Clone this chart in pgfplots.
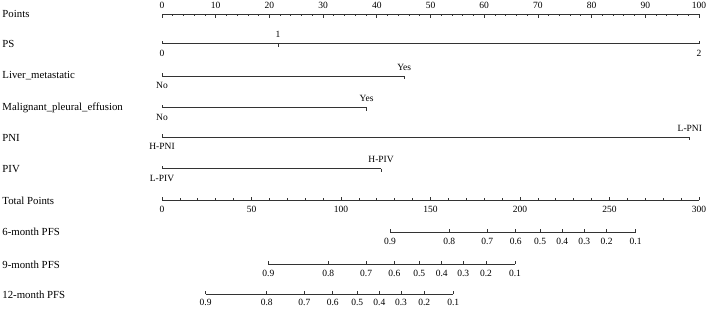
\documentclass[border=0pt]{standalone}
\usepackage{pgfplots}
\pgfplotsset{compat=1.18}
\usepackage{fontspec}
\setmainfont{Liberation Serif}

\pgfdeclareplotmark{tup}{\pgfpathmoveto{\pgfpointorigin}\pgfpathlineto{\pgfpoint{0pt}{\pgfplotmarksize}}\pgfusepathqstroke}
\pgfdeclareplotmark{tdown}{\pgfpathmoveto{\pgfpointorigin}\pgfpathlineto{\pgfpoint{0pt}{-\pgfplotmarksize}}\pgfusepathqstroke}

\pgfplotsset{
  base/.style={scale only axis, width=708pt, height=309pt, ymin=0, ymax=309,
    y dir=reverse, hide axis, clip=false, at={(0,0)}, anchor=south west},
  rl/.style={color=black!80, line width=1pt, mark=none},
  tu/.style={only marks, mark=tup, mark size=#1, mark options={line width=0.8pt, draw=black!80}},
  td/.style={only marks, mark=tdown, mark size=#1, mark options={line width=0.8pt, draw=black!80}},
  labA/.style={draw=none, mark=none, nodes near coords, point meta=explicit symbolic,
    nodes near coords style={anchor=center, yshift=9pt, inner sep=0pt, font=\fontsize{9.5}{10}\selectfont, text=black}},
  labB/.style={draw=none, mark=none, nodes near coords, point meta=explicit symbolic,
    nodes near coords style={anchor=center, yshift=-9.6pt, inner sep=0pt, font=\fontsize{9.5}{10}\selectfont, text=black}},
}
\newcommand{\rowfont}{\fontsize{10.8}{12}\selectfont}

\begin{document}
\begin{tikzpicture}
\useasboundingbox (0,0) rectangle (708pt,309pt);
% ---------- upper block: Points scale (0-100) ----------
\begin{axis}[base, xmin=-30.168, xmax=101.676]
  % Points
  \addplot[rl] coordinates {(0,14) (100,14)};
  \addplot[td=3.5pt] coordinates {(0,14) (10,14) (20,14) (30,14) (40,14) (50,14) (60,14) (70,14) (80,14) (90,14) (100,14)};
  \addplot[td=2pt] coordinates {(2,14) (4,14) (6,14) (8,14) (12,14) (14,14) (16,14) (18,14) (22,14) (24,14) (26,14) (28,14) (32,14) (34,14) (36,14) (38,14) (42,14) (44,14) (46,14) (48,14) (52,14) (54,14) (56,14) (58,14) (62,14) (64,14) (66,14) (68,14) (72,14) (74,14) (76,14) (78,14) (82,14) (84,14) (86,14) (88,14) (92,14) (94,14) (96,14) (98,14)};
  \addplot[labA] coordinates {(0,14) [0] (10,14) [10] (20,14) [20] (30,14) [30] (40,14) [40] (50,14) [50] (60,14) [60] (70,14) [70] (80,14) [80] (90,14) [90] (100,14) [100]};
  % PS
  \addplot[rl] coordinates {(0,43.5) (100,43.5)};
  \addplot[tu=3pt] coordinates {(0,43.5) (100,43.5)};
  \addplot[td=3pt] coordinates {(21.6,43.5)};
  \addplot[labB] coordinates {(0,43.5) [0] (100,43.5) [2]};
  \addplot[labA] coordinates {(21.6,43.5) [1]};
  % Liver_metastatic
  \addplot[rl] coordinates {(0,76) (45.1,76)};
  \addplot[tu=3pt] coordinates {(0,76)};
  \addplot[td=3pt] coordinates {(45.1,76)};
  \addplot[labB] coordinates {(0,76) [No]};
  \addplot[labA] coordinates {(45.1,76) [Yes]};
  % Malignant_pleural_effusion
  \addplot[rl] coordinates {(0,107.5) (38.1,107.5)};
  \addplot[tu=3pt] coordinates {(0,107.5)};
  \addplot[td=3pt] coordinates {(38.1,107.5)};
  \addplot[labB] coordinates {(0,107.5) [No]};
  \addplot[labA] coordinates {(38.1,107.5) [Yes]};
  % PNI
  \addplot[rl] coordinates {(0,137) (98.3,137)};
  \addplot[tu=3pt] coordinates {(0,137)};
  \addplot[td=3pt] coordinates {(98.3,137)};
  \addplot[labB] coordinates {(0,137) [H-PNI]};
  \addplot[labA] coordinates {(98.3,137) [L-PNI]};
  % PIV
  \addplot[rl] coordinates {(0,168.5) (40.8,168.5)};
  \addplot[tu=3pt] coordinates {(0,168.5)};
  \addplot[td=3pt] coordinates {(40.8,168.5)};
  \addplot[labB] coordinates {(0,168.5) [L-PIV]};
  \addplot[labA] coordinates {(40.8,168.5) [H-PIV]};
  % row labels
  \node[anchor=west, font=\rowfont, inner sep=0pt] at (axis cs:-29.75,14) {Points};
  \node[anchor=west, font=\rowfont, inner sep=0pt] at (axis cs:-29.75,44) {PS};
  \node[anchor=west, font=\rowfont, inner sep=0pt] at (axis cs:-29.75,76) {Liver\_metastatic};
  \node[anchor=west, font=\rowfont, inner sep=0pt] at (axis cs:-29.75,107.5) {Malignant\_pleural\_effusion};
  \node[anchor=west, font=\rowfont, inner sep=0pt] at (axis cs:-29.75,137.5) {PNI};
  \node[anchor=west, font=\rowfont, inner sep=0pt] at (axis cs:-29.75,169) {PIV};
  \node[anchor=west, font=\rowfont, inner sep=0pt] at (axis cs:-29.75,200.5) {Total Points};
  \node[anchor=west, font=\rowfont, inner sep=0pt] at (axis cs:-29.75,232) {6-month PFS};
  \node[anchor=west, font=\rowfont, inner sep=0pt] at (axis cs:-29.75,264.5) {9-month PFS};
  \node[anchor=west, font=\rowfont, inner sep=0pt] at (axis cs:-29.75,294.5) {12-month PFS};
\end{axis}
% ---------- lower block: Total Points scale (0-300) ----------
\begin{axis}[base, xmin=-90.503, xmax=305.028]
  % Total Points
  \addplot[rl] coordinates {(0,200) (300,200)};
  \addplot[tu=3.5pt] coordinates {(0,200) (50,200) (100,200) (150,200) (200,200) (250,200) (300,200)};
  \addplot[tu=2pt] coordinates {(10,200) (20,200) (30,200) (40,200) (60,200) (70,200) (80,200) (90,200) (110,200) (120,200) (130,200) (140,200) (160,200) (170,200) (180,200) (190,200) (210,200) (220,200) (230,200) (240,200) (260,200) (270,200) (280,200) (290,200)};
  \addplot[labB] coordinates {(0,200) [0] (50,200) [50] (100,200) [100] (150,200) [150] (200,200) [200] (250,200) [250] (300,200) [300]};
  % 6-month PFS
  \addplot[rl] coordinates {(127.4,232) (264.6,232)};
  \addplot[tu=2.8pt] coordinates {(127.4,232) (160.5,232) (181.7,232) (197.6,232) (211.2,232) (223.6,232) (235.9,232) (248.4,232) (264.6,232)};
  \addplot[labB] coordinates {(127.4,232) [0.9] (160.5,232) [0.8] (181.7,232) [0.7] (197.6,232) [0.6] (211.2,232) [0.5] (223.6,232) [0.4] (235.9,232) [0.3] (248.4,232) [0.2] (264.6,232) [0.1]};
  % 9-month PFS
  \addplot[rl] coordinates {(59.4,264) (197.2,264)};
  \addplot[tu=2.8pt] coordinates {(59.4,264) (92.9,264) (114.0,264) (129.8,264) (143.7,264) (156.3,264) (168.3,264) (181.0,264) (197.2,264)};
  \addplot[labB] coordinates {(59.4,264) [0.9] (92.9,264) [0.8] (114.0,264) [0.7] (129.8,264) [0.6] (143.7,264) [0.5] (156.3,264) [0.4] (168.3,264) [0.3] (181.0,264) [0.2] (197.2,264) [0.1]};
  % 12-month PFS
  \addplot[rl] coordinates {(24.4,294) (162.7,294)};
  \addplot[tu=2.8pt] coordinates {(24.4,294) (58.5,294) (79.5,294) (95.4,294) (109.1,294) (121.4,294) (133.5,294) (146.5,294) (162.7,294)};
  \addplot[draw=none, mark=none, nodes near coords, point meta=explicit symbolic,
    nodes near coords style={anchor=center, yshift=-8.6pt, inner sep=0pt, font=\fontsize{9.5}{10}\selectfont, text=black}]
    coordinates {(24.4,294) [0.9] (58.5,294) [0.8] (79.5,294) [0.7] (95.4,294) [0.6] (109.1,294) [0.5] (121.4,294) [0.4] (133.5,294) [0.3] (146.5,294) [0.2] (162.7,294) [0.1]};
\end{axis}
\end{tikzpicture}
\end{document}
